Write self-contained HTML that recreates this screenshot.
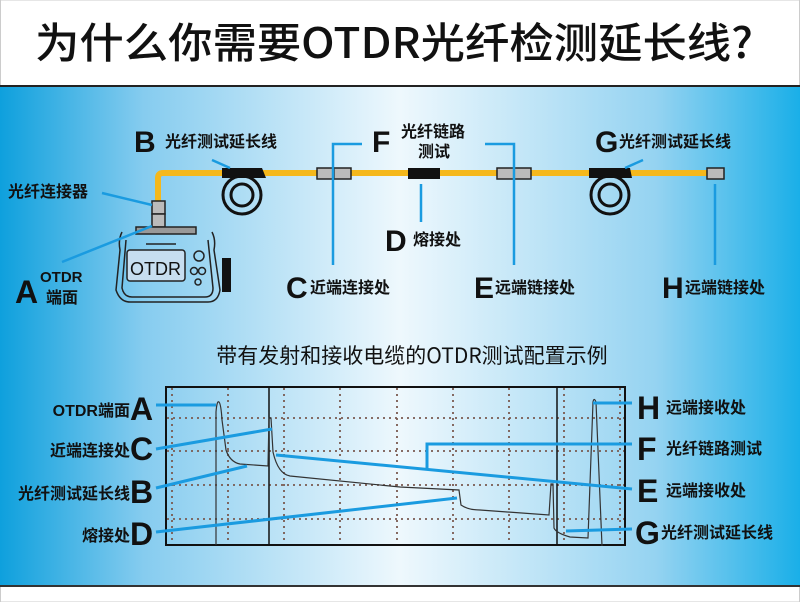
<!DOCTYPE html>
<html><head><meta charset="utf-8"><style>
html,body{margin:0;padding:0;width:800px;height:602px;overflow:hidden;background:#fff}
svg{display:block}
text{font-family:"Liberation Sans","Noto Sans CJK SC",sans-serif;fill:#111}
.b{font-weight:bold}
.c{font-family:"Noto Sans CJK SC","Liberation Sans",sans-serif;font-weight:bold}
</style></head><body>
<svg width="800" height="602" viewBox="0 0 800 602" xmlns="http://www.w3.org/2000/svg">
<defs>
<linearGradient id="bg" x1="0" x2="1" y1="0" y2="0">
<stop offset="0" stop-color="#0ea0dd"/>
<stop offset="0.18" stop-color="#86ccef"/>
<stop offset="0.5" stop-color="#eef8fd"/>
<stop offset="0.82" stop-color="#95d3f1"/>
<stop offset="1" stop-color="#1aafe8"/>
</linearGradient>
</defs>
<rect x="0" y="0" width="800" height="602" fill="#fff"/>
<rect x="0.5" y="0" width="799" height="602" fill="none" stroke="#ccc" stroke-width="1"/>
<text x="394" y="58" font-size="42" text-anchor="middle" textLength="718" lengthAdjust="spacingAndGlyphs" class="c" style="font-weight:500">为什么你需要OTDR光纤检测延长线?</text>
<rect x="0" y="85" width="800" height="2" fill="#222"/>
<rect x="0" y="87" width="800" height="499" fill="url(#bg)"/>
<rect x="0" y="585" width="800" height="2" fill="#333"/>

<path d="M158 205 V178 Q158 173 163 173 H712" fill="none" stroke="#f5b81c" stroke-width="6"/>
<rect x="152" y="201" width="13" height="13" fill="#bbb" stroke="#222" stroke-width="1.5"/>
<rect x="152" y="214" width="13" height="13" fill="#bbb" stroke="#222" stroke-width="1.5"/>
<g fill="none" stroke="#222" stroke-width="1.5">
<rect x="136" y="227" width="60" height="7" fill="#999"/>
<path d="M122 232 Q118 240 120 250 L116 290 Q120 302 130 302 H208 Q218 302 220 290 L214 250 Q216 240 212 232"/>
<path d="M126 240 L122 288 Q124 297 132 297 H205 Q213 297 213 288 L208 240"/>
<rect x="127" y="250" width="58" height="31" fill="#c7def0" rx="3"/>
<circle cx="199" cy="256" r="5"/><circle cx="194" cy="271" r="3.5"/><circle cx="202" cy="271" r="3.5"/><circle cx="198" cy="282" r="3"/>
<path d="M146 244 H176"/>
</g>
<text x="130" y="275" font-size="18" fill="#111">OTDR</text>
<rect x="222" y="258" width="9" height="34" fill="#111"/>
<path d="M222 168 H262 L266 178 H222 Z" fill="#111"/>
<circle cx="242" cy="195" r="19" fill="none" stroke="#111" stroke-width="3"/>
<circle cx="242" cy="195" r="11" fill="none" stroke="#111" stroke-width="3"/>
<path d="M589 168 H630 L632 178 H589 Z" fill="#111"/>
<circle cx="610" cy="195" r="19" fill="none" stroke="#111" stroke-width="3"/>
<circle cx="610" cy="195" r="11" fill="none" stroke="#111" stroke-width="3"/>
<g fill="#bbb" stroke="#222" stroke-width="1.5">
<rect x="317" y="168" width="17" height="11"/><rect x="334" y="168" width="17" height="11"/>
<rect x="497" y="168" width="17" height="11"/><rect x="514" y="168" width="17" height="11"/>
<rect x="707" y="168" width="17" height="11"/>
</g>
<rect x="408" y="168" width="32" height="11" fill="#111"/>
<g fill="none" stroke="#1a9be0" stroke-width="2.5">
<path d="M333 265 V144 H362"/>
<path d="M514 265 V144 H485"/>
<path d="M421 184 V222"/>
<path d="M715 184 V265"/>
<path d="M212 160 L230 168"/>
<path d="M643 160 L625 168"/>
<path d="M102 193 L152 205"/>
<path d="M62 262 L152 226"/>
</g>
<text x="134" y="152" font-size="30" class="b">B</text>
<text x="165" y="147" font-size="16" class="c">光纤测试延长线</text>
<text x="372" y="152" font-size="30" class="b">F</text>
<text x="401" y="137" font-size="16" class="c">光纤链路</text>
<text x="418" y="157" font-size="16" class="c">测试</text>
<text x="595" y="152" font-size="30" class="b">G</text>
<text x="619" y="147" font-size="16" class="c">光纤测试延长线</text>
<text x="8" y="197" font-size="16" class="c">光纤连接器</text>
<text x="15" y="303" font-size="32" class="b">A</text>
<text x="40" y="282" font-size="15" class="b">OTDR</text>
<text x="46" y="303" font-size="16" class="c">端面</text>
<text x="286" y="298" font-size="30" class="b">C</text>
<text x="310" y="293" font-size="16" class="c">近端连接处</text>
<text x="385" y="251" font-size="30" class="b">D</text>
<text x="413" y="245" font-size="16" class="c">熔接处</text>
<text x="474" y="298" font-size="30" class="b">E</text>
<text x="495" y="293" font-size="16" class="c">远端链接处</text>
<text x="662" y="298" font-size="30" class="b">H</text>
<text x="685" y="293" font-size="16" class="c">远端链接处</text>

<text x="412" y="363" font-size="21" text-anchor="middle" class="c" style="font-weight:normal">带有发射和接收电缆的OTDR测试配置示例</text>

<g stroke="#7a5a50" stroke-width="1.8" stroke-dasharray="2 4">
<path d="M172 388 V545 M228 388 V545 M284 388 V545 M340 388 V545 M397 388 V545 M453 388 V545 M509 388 V545 M564 388 V545 M620 388 V545"/>
<path d="M167 418 H625 M167 451 H625 M167 485 H625 M167 519 H625"/>
</g>
<rect x="166" y="387" width="459" height="158" fill="none" stroke="#111" stroke-width="2"/>
<path d="M269 387 V545 M557 387 V545" stroke="#111" stroke-width="1.5"/>
<path d="M216 545 L216 412 Q217 400 219 402 Q221 404 222 420 L226 450 Q230 462 240 464 L268 466 L269 418 L271 418 L273 452 Q278 474 290 476 L400 487 L459 490 L461 505 Q468 510 480 510 L549 515 L551 484 L553 484 L554 528 Q556 533 570 537 L588 538 L593 402 Q594 397 596 402 L602 546" fill="none" stroke="#333" stroke-width="1.2"/>
<g fill="none" stroke="#1a9be0" stroke-width="3">
<path d="M156 405 H216"/>
<path d="M156 449 L272 429"/>
<path d="M156 488 L247 466"/>
<path d="M156 532 L457 498"/>
<path d="M427 469 V444 H632"/>
<path d="M276 455 L632 489"/>
<path d="M593 403 H632"/>
<path d="M566 531 L632 529"/>
</g>
<text x="130" y="416" font-size="16" text-anchor="end" class="b">OTDR<tspan class="c">端面</tspan></text>
<text x="130" y="420" font-size="32" class="b">A</text>
<text x="130" y="456" font-size="16" text-anchor="end" class="c">近端连接处</text>
<text x="130" y="460" font-size="32" class="b">C</text>
<text x="130" y="499" font-size="16" text-anchor="end" class="c">光纤测试延长线</text>
<text x="130" y="503" font-size="32" class="b">B</text>
<text x="130" y="541" font-size="16" text-anchor="end" class="c">熔接处</text>
<text x="130" y="545" font-size="32" class="b">D</text>
<text x="637" y="419" font-size="32" class="b">H</text>
<text x="666" y="413" font-size="16" class="c">远端接收处</text>
<text x="637" y="460" font-size="32" class="b">F</text>
<text x="666" y="454" font-size="16" class="c">光纤链路测试</text>
<text x="637" y="502" font-size="32" class="b">E</text>
<text x="666" y="496" font-size="16" class="c">远端接收处</text>
<text x="635" y="544" font-size="32" class="b">G</text>
<text x="661" y="538" font-size="16" class="c">光纤测试延长线</text>
</svg>
</body></html>
